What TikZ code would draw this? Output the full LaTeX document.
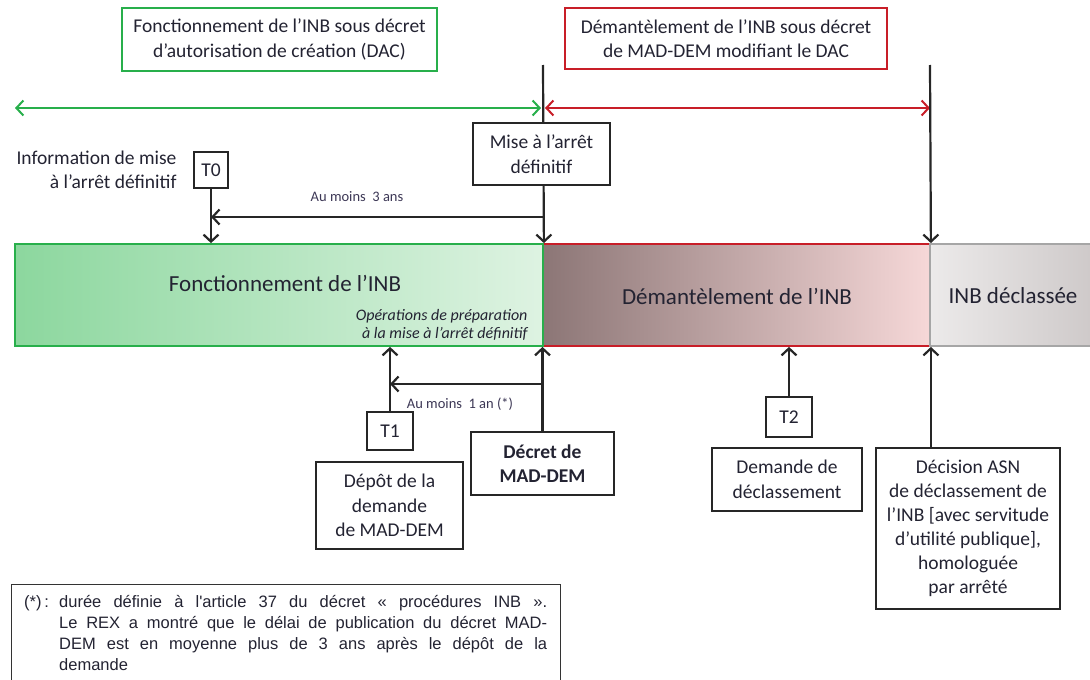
\documentclass[tikz,border=0pt]{standalone}
\usepackage{fontspec}
\setmainfont{Carlito}
\newfontfamily\arialfont{Liberation Sans}
\usetikzlibrary{arrows.meta, positioning, calc}
\definecolor{inbgreen}{RGB}{40,175,75}
\definecolor{inbred}{RGB}{200,30,40}
\definecolor{greenL}{RGB}{140,215,158}
\definecolor{greenR}{RGB}{222,243,226}
\definecolor{redL}{RGB}{140,118,118}
\definecolor{redR}{RGB}{246,216,216}
\definecolor{grayL}{RGB}{236,234,234}
\definecolor{grayR}{RGB}{205,200,200}
\definecolor{txt}{RGB}{35,35,50}
\definecolor{smalltxt}{RGB}{60,55,85}

\begin{document}
\begin{tikzpicture}[x=1pt,y=-1pt,
    >={Straight Barb[length=7pt,width=15pt]},
    every node/.style={text=txt},
    box/.style={draw=black!85, line width=1.4pt, fill=white, align=center, inner sep=0,
      font=\fontsize{19.5}{24.5}\selectfont},
    arr/.style={->, line width=2.2pt, black!85},
    small/.style={text=smalltxt, font=\fontsize{14.5}{16}\selectfont},
    phase/.style={minimum height=102pt, inner sep=0, line width=1.8pt},
    big/.style={font=\fontsize{23}{27}\selectfont}]
      \useasboundingbox (0,0) rectangle (1090,680);
      % phases of the INB
      \node[phase, draw=inbred, left color=redL, right color=redR, minimum width=387pt] (dem) at (736.5,295){};
      \node[phase, draw=inbgreen, left color=greenL, right color=greenR, minimum width=528pt] (fonc) at (279,295){};
      \node[phase, draw=gray!70, left color=grayL, right color=grayR, minimum width=170pt] (decl) at (1015,295){};
      \node[big] (foncT) at (285,283){Fonctionnement de l’INB};
      \node[font=\fontsize{16}{17.5}\selectfont\itshape, align=right, anchor=east] (prep) at (531,325){Opérations de préparation\\à la mise à l’arrêt définitif};
      \node[big] (demT) at (737,296){Démantèlement de l’INB};
      \node[big] (declT) at (1013,296){INB déclassée};
      % decrees on top
      \node[box, draw=inbgreen, minimum width=315pt, minimum height=63pt] (dac) at (279.5,39.5){Fonctionnement de l’INB sous décret\\d’autorisation de création (DAC)};
      \node[box, draw=inbred, minimum width=322pt, minimum height=61pt] (mad) at (726,38.5){Démantèlement de l’INB sous décret\\de MAD-DEM modifiant le DAC};
      \coordinate (v1) at (543,65);
      \coordinate (v2) at (930,65);
      \coordinate (gA) at (15,108);
      \coordinate (gB) at (541,108);
      \coordinate (rA) at (545,108);
      \coordinate (rB) at (930,108);
      \draw[<->, inbgreen, line width=2pt] (gA) -- (gB);
      \draw[<->, inbred, line width=2pt] (rA) -- (rB);
      \draw[arr] (v1) -- (fonc.north east);
      \draw[arr] (v2) -- (dem.north east);
      \node[box, minimum width=137pt, minimum height=62pt] (maa) at (541.5,154){Mise à l’arrêt\\définitif};
      % T0
      \node[box, minimum width=34pt, minimum height=36pt] (T0) at (211,170){T0};
      \node[align=right, anchor=east, font=\fontsize{19.5}{24}\selectfont] (info) at (180,170){Information de mise\\à l’arrêt définitif};
      \draw[arr] (T0) -- (T0 |- fonc.north);
      \coordinate (h3) at (543,217);
      \draw[arr] (h3) -- (h3 -| T0);
      \node[small] (ans3) at (357,197){Au moins\ \ 3 ans};
      % T1
      \node[box, minimum width=46pt, minimum height=38pt] (T1) at (390,431){T1};
      \node[box, minimum width=143pt, minimum height=63pt, font=\fontsize{19.5}{24.5}\selectfont\bfseries] (dec) at (542.5,463.5){Décret de\\MAD-DEM};
      \node[box, minimum width=147pt, minimum height=87pt] (depot) at (389.5,505.5){Dépôt de la\\demande\\de MAD-DEM};
      \draw[arr] (T1) -- (T1 |- fonc.south);
      \draw[arr] (dec) -- (dec |- fonc.south);
      \coordinate (h1) at (543,384);
      \draw[arr] (h1) -- (h1 -| T1);
      \node[small] (an1) at (460,404){Au moins\ \ 1 an (*)};
      % T2
      \node[box, minimum width=46pt, minimum height=40pt] (T2) at (789,417){T2};
      \node[box, minimum width=150pt, minimum height=63pt] (dem2) at (787,479.5){Demande de\\déclassement};
      \node[box, minimum width=184pt, minimum height=161pt, font=\fontsize{19.5}{24}\selectfont] (decis) at (968,528.5){Décision ASN\\de déclassement de\\l’INB [avec servitude\\d’utilité publique],\\homologuée\\par arrêté};
      \draw[arr] (T2) -- (T2 |- dem.south);
      \draw[arr] (decis.north -| dem.east) -- (dem.south east);
      % note
      \node[draw=black!80, line width=1.2pt, minimum width=549pt, minimum height=105pt, anchor=north west, inner sep=0] (note) at (11,584){};
      \node[anchor=north west, inner sep=0, font=\arialfont\fontsize{16.5}{21}\selectfont] (star) at (24,595){(*)\,:};
      \node[anchor=north west, inner sep=0, text width=488pt, align=justify, font=\arialfont\fontsize{16.5}{21}\selectfont] (notetxt) at (59,595){durée définie à l'article 37 du décret «~procédures INB~».\linebreak Le REX a montré que le délai de publication du décret MAD-\linebreak DEM est en moyenne plus de 3 ans après le dépôt de la\linebreak demande};
    \end{tikzpicture}
\end{document}
